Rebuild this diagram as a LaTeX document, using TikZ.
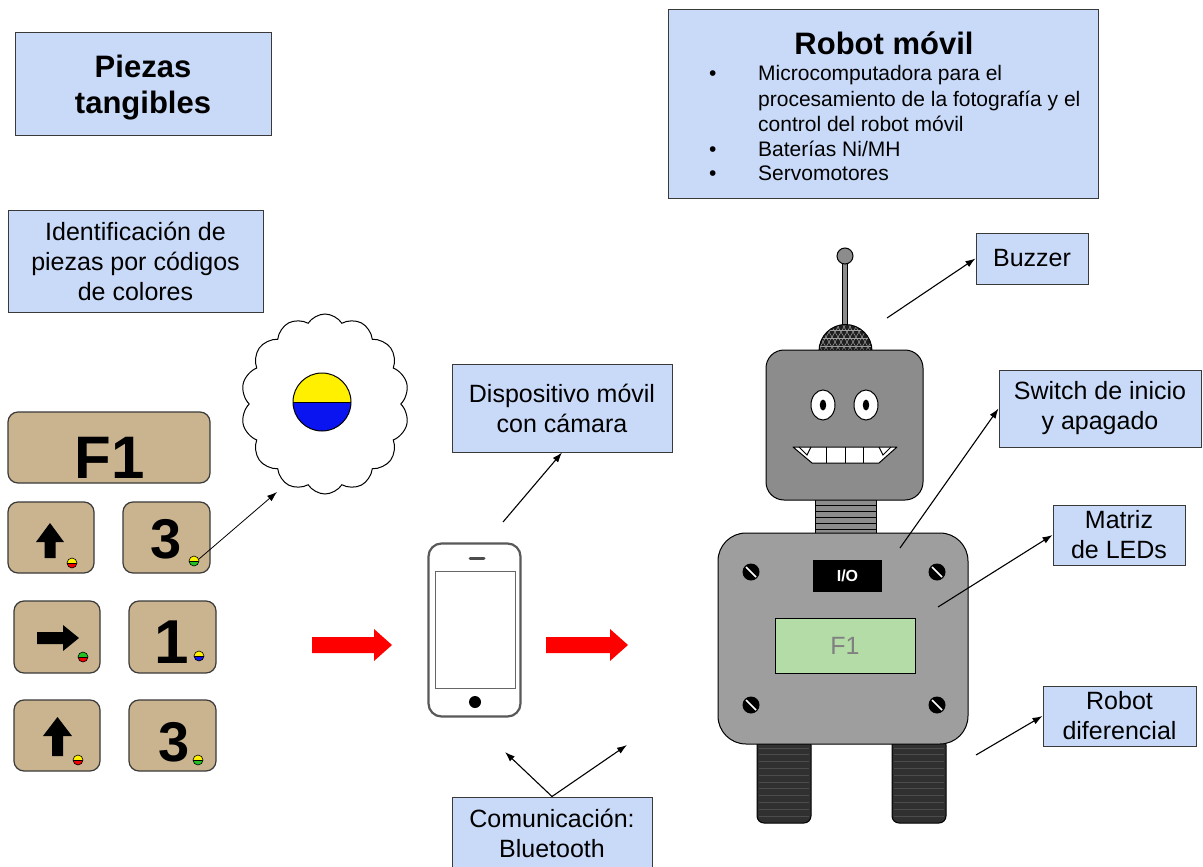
\documentclass[tikz,border=0pt]{standalone}
\usepackage{fontspec}
\setmainfont{Liberation Sans}
\usetikzlibrary{shapes.symbols,arrows.meta,calc}

\definecolor{boxblue}{HTML}{C9DAF8}
\definecolor{boxline}{HTML}{3A3A3A}
\definecolor{tan}{HTML}{C9B48F}
\definecolor{headgray}{HTML}{8C8C8C}
\definecolor{bodygray}{HTML}{9E9E9E}
\definecolor{lcdgreen}{HTML}{B4DCA6}
\definecolor{tread}{HTML}{303030}
\definecolor{dotyellow}{HTML}{FFF000}
\definecolor{dotred}{HTML}{F00000}
\definecolor{dotgreen}{HTML}{22C022}
\definecolor{dotblue}{HTML}{0A14F0}

% two-colour marker: #1 centre, #2 upper half, #3 lower half, #4 radius
\newcommand\halfdot[4]{%
  \begin{scope}
    \clip #1 circle (#4);
    \fill[#2] ($#1+(-#4,-#4)$) rectangle ($#1+(#4,0)$);
    \fill[#3] ($#1+(-#4,0)$) rectangle ($#1+(#4,#4)$);
    \draw[line width=0.6pt] ($#1+(-#4,0)$) -- ($#1+(#4,0)$);
  \end{scope}
  \draw[line width=0.6pt] #1 circle (#4);}

% horizontal block arrow: #1 tail x, #2 head base x, #3 tip x, #4 centre y
\newcommand\blockarrow[4]{%
  \fill[red] (#1,#4-8) -- (#2,#4-8) -- (#2,#4-16) -- (#3,#4) -- (#2,#4+16)
    -- (#2,#4+8) -- (#1,#4+8) -- cycle;}

\begin{document}
\begin{tikzpicture}[x=1pt,y=-1pt,
  lbl/.style={draw=boxline, fill=boxblue, line width=1pt, align=center,
    inner sep=0pt, font=\fontsize{25}{30}\selectfont},
  tile/.style={draw=boxline, fill=tan, rounded corners=10pt, line width=1.2pt, inner sep=0pt},
  conn/.style={-{Latex[length=10pt,width=7pt]}, line width=1.1pt},
  bul/.style={font=\fontsize{21}{25}\selectfont, inner sep=0pt, anchor=base west},
  digit/.style={font=\fontsize{56}{56}\selectfont\bfseries, inner sep=0pt},
  outl/.style={draw=black, line width=1pt}]

\useasboundingbox (0,0) rectangle (1203,867);
\fill[white] (0,0) rectangle (1203,867);

% ---------- labels on the left ----------
\node[lbl, minimum width=256pt, minimum height=102pt] (piezas) at (143,84) {};
\node[align=center, inner sep=0pt, font=\fontsize{31}{36}\selectfont\bfseries]
  (piezastxt) at (143,88) {Piezas\\tangibles};
\node[lbl, minimum width=255pt, minimum height=102pt] (ident) at (135.5,261)
  {Identificación de\\piezas por códigos\\de colores};

% ---------- tangible pieces ----------
\node[tile, minimum width=202pt, minimum height=71pt] (f1) at (109,447.5) {};
\node[font=\fontsize{60}{60}\selectfont\bfseries, inner sep=0pt] (f1txt) at (110,458) {F1};

\node[tile, minimum width=86pt, minimum height=71pt] (t1) at (51,537.5) {};
\node[tile, minimum width=87pt, minimum height=71pt] (t2) at (166.5,537.5) {};
\node[tile, minimum width=86pt, minimum height=72pt] (t3) at (57,637) {};
\node[tile, minimum width=87pt, minimum height=72pt] (t4) at (172.5,637) {};
\node[tile, minimum width=86pt, minimum height=71pt] (t5) at (57,735.5) {};
\node[tile, minimum width=87pt, minimum height=71pt] (t6) at (172.5,735.5) {};

% arrow glyphs
\fill (50,523) -- (64,542) -- (55.5,542) -- (55.5,558) -- (44.5,558) -- (44.5,542) -- (36,542) -- cycle;
\fill (79,638) -- (63,625) -- (63,632) -- (37,632) -- (37,644) -- (63,644) -- (63,651) -- cycle;
\fill (57.5,717) -- (72,736) -- (63,736) -- (63,756) -- (52,756) -- (52,736) -- (43,736) -- cycle;

% digits
\node[digit] (d1) at (166,539) {3};
\node[digit, font=\fontsize{62}{62}\selectfont\bfseries] (d2) at (172,642) {1};
\node[digit] (d3) at (174,742) {3};

% colour codes
\halfdot{(72,563)}{dotyellow}{dotred}{5}
\halfdot{(194,561)}{dotyellow}{dotgreen}{5}
\halfdot{(83,657)}{dotgreen}{dotred}{5}
\halfdot{(199,656)}{dotyellow}{dotblue}{5}
\halfdot{(78,760)}{dotyellow}{dotred}{5}
\halfdot{(198,760)}{dotyellow}{dotgreen}{5}
\coordinate (codethree) at (199,559);

% thought cloud with the enlarged code
\node[cloud, cloud puffs=14, cloud puff arc=115, aspect=0.95, draw, fill=white,
  line width=1pt, minimum width=168pt, minimum height=180pt] (cloud) at (325,404) {};
\begin{scope}
  \clip (322,402) circle (29);
  \fill[dotyellow] (290,370) rectangle (354,402);
  \fill[dotblue] (290,402) rectangle (354,434);
\end{scope}
\draw[line width=1pt] (293,402) -- (351,402);
\draw[line width=1pt] (322,402) circle (29);
\coordinate (cloudtip) at (277,492);
\draw[conn, line width=0.8pt] (codethree) -- (cloudtip);

% ---------- flow arrows ----------
\blockarrow{312}{374}{392}{645}
\blockarrow{546}{610}{628}{645}
\coordinate (flow1) at (352,645);
\coordinate (flow2) at (587,645);

% ---------- mobile device ----------
\node[draw=gray!70!black, line width=2.2pt, rounded corners=13pt, minimum width=92pt,
  minimum height=173pt, inner sep=0pt] (phone) at (474.5,630) {};
\draw[gray!80!black, line width=1pt] (435,571) rectangle (515,688);
\draw[gray!60!black, line width=3pt, line cap=round] (470,558) -- (484,558);
\fill (475,702) circle (6);

\node[lbl, minimum width=220pt, minimum height=88pt] (disp) at (562,408)
  {Dispositivo móvil\\con cámara};
\coordinate (phcam) at (503,522);
\draw[conn] (phcam) -- (disp.south);

\node[lbl, minimum width=200pt, minimum height=72pt] (com) at (552,833)
  {Comunicación:\\Bluetooth};
\coordinate (btphone) at (505,752);
\coordinate (btrobot) at (627,745);
\draw[conn] (com.north) -- (btphone);
\draw[conn] (com.north) -- (btrobot);

% ---------- robot description ----------
\node[lbl, minimum width=430pt, minimum height=188pt] (robotbox) at (883,104) {};
\node[font=\fontsize{31}{34}\selectfont\bfseries, inner sep=0pt] (rtitle) at (884,43) {Robot móvil};
\node[bul] (bu1) at (709,80.5) {\textbullet};
\node[bul] (bu2) at (709,156.5) {\textbullet};
\node[bul] (bu3) at (709,180.5) {\textbullet};
\node[bul] (li1) at (758,80.5) {Microcomputadora para el};
\node[bul] (li2) at (758,106.5) {procesamiento de la fotografía y el};
\node[bul] (li3) at (758,131.5) {control del robot móvil};
\node[bul] (li4) at (758,156.5) {Baterías Ni/MH};
\node[bul] (li5) at (758,180.5) {Servomotores};

% ---------- robot ----------
% antenna and buzzer dome
\draw[outl, fill=headgray] (842.5,262) rectangle (847.5,326);
\draw[outl, fill=headgray] (845,256) circle (8);
\begin{scope}
  \clip (819,351) arc[start angle=180, end angle=360, radius=26.5] -- cycle;
  \fill[black!88] (815,320) rectangle (875,352);
  \foreach \t in {-40,-34,...,40} {
    \draw[gray!75, line width=0.5pt] (845+\t,352) -- (845+\t+18,322);
    \draw[gray!75, line width=0.5pt] (845+\t,352) -- (845+\t-18,322);
  }
  \foreach \yy in {330,338,346} \draw[gray!75, line width=0.5pt] (815,\yy) -- (875,\yy);
\end{scope}
\draw[outl] (819,351) arc[start angle=180, end angle=360, radius=26.5] -- cycle;

% neck
\draw[outl, fill=headgray] (815,498) rectangle (876,535);
\foreach \yy in {505,511,517,523,529} \draw[line width=0.8pt] (815,\yy) -- (876,\yy);

% head
\draw[outl, fill=headgray, rounded corners=18pt] (766,350) rectangle (923,500);
\draw[outl, fill=white] (823,405) ellipse [x radius=12, y radius=15];
\draw[outl, fill=white] (866,405) ellipse [x radius=12, y radius=15];
\fill (823,405) ellipse [x radius=3.2, y radius=5.5];
\fill (866,405) ellipse [x radius=3.2, y radius=5.5];
\draw[outl, fill=white, line join=round] (793,447) -- (897,447) -- (879,463) -- (812,463) -- cycle;
\foreach \xx in {826,845,863} \draw[line width=1pt] (\xx,447) -- (\xx,463);
\draw[line width=1pt] (799,447) -- (807,455) -- (811,447);
\draw[line width=1pt] (891,447) -- (883,455) -- (879,447);

% wheels
\foreach \wx in {757,892} {
  \draw[outl, fill=tread, rounded corners=7pt] (\wx,738) rectangle (\wx+54,823);
  \foreach \k in {0,...,10} \draw[gray!60!black, line width=0.7pt] (\wx+2,748+\k*6.8) -- (\wx+52,748+\k*6.8);
}

% body
\draw[outl, fill=bodygray, rounded corners=28pt] (718,533) rectangle (968,744);
\foreach \sx/\sy in {751/572, 937/572, 751/705, 937/705} {
  \fill (\sx,\sy) circle (8.5);
  \draw[white, line width=1.6pt] (\sx-5,\sy-5) -- (\sx+5,\sy+5);
}
\node[fill=black, minimum width=69pt, minimum height=32pt, inner sep=0pt,
  text=white, font=\fontsize{16}{16}\selectfont\bfseries] (switch) at (847.5,576) {I/O};
\node[draw=black, line width=1pt, fill=lcdgreen, minimum width=140pt, minimum height=55pt,
  inner sep=0pt, text=gray, font=\fontsize{25}{25}\selectfont] (lcd) at (845,645.5) {F1};

% ---------- robot labels ----------
\node[lbl, minimum width=112pt, minimum height=51pt] (buzzer) at (1032,258.5) {Buzzer};
\node[lbl, minimum width=202pt, minimum height=77pt] (swl) at (1100,408.5) {Switch de inicio\\y apagado};
\node[lbl, minimum width=132pt, minimum height=60pt] (matriz) at (1119,535) {Matriz\\de LEDs};
\node[lbl, minimum width=153pt, minimum height=60pt] (difer) at (1119.5,716) {Robot\\diferencial};

\coordinate (pbuzz) at (887,318);
\coordinate (pswitch) at (900,548);
\coordinate (pleds) at (938,607);
\coordinate (pwheels) at (976,755);
\draw[conn] (pbuzz) -- (buzzer.west);
\draw[conn] (pswitch) -- (swl.west);
\draw[conn] (pleds) -- (matriz.west);
\draw[conn] (pwheels) -- (difer.west);

\end{tikzpicture}
\end{document}
